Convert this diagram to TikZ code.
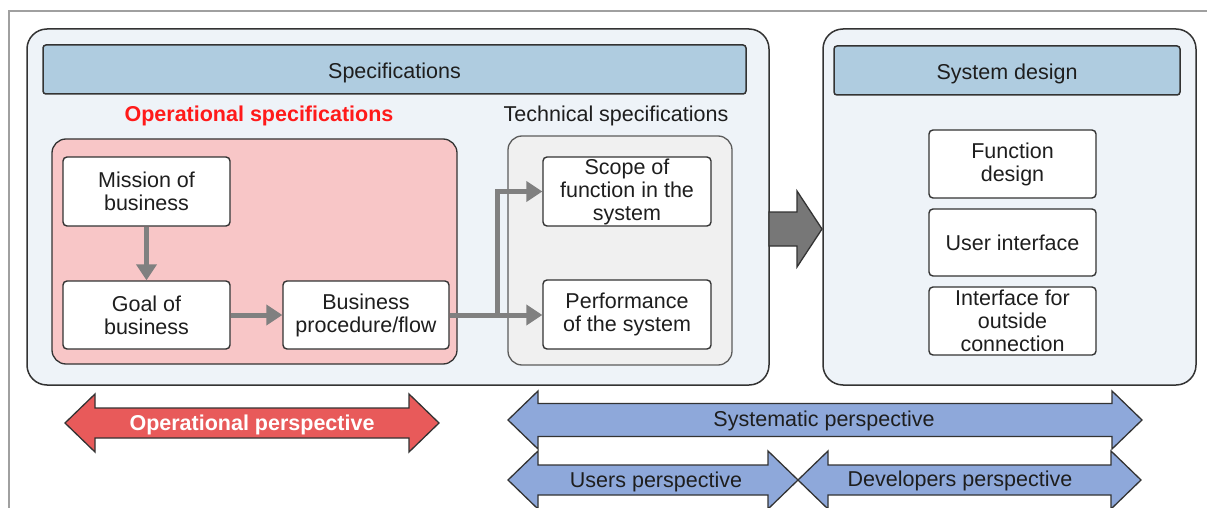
\documentclass[tikz,border=0pt]{standalone}
\usepackage{fontspec}
\setmainfont{Liberation Sans}
\usetikzlibrary{arrows.meta}
\definecolor{txt}{HTML}{1E1E1E}
\definecolor{bord}{HTML}{333333}
\definecolor{specfill}{HTML}{EEF3F8}
\definecolor{headfill}{HTML}{AFCCE0}
\definecolor{pinkfill}{HTML}{F8C6C7}
\definecolor{techfill}{HTML}{F0F0F0}
\definecolor{conncol}{HTML}{808080}
\definecolor{redtxt}{HTML}{FF1A1A}
\definecolor{redarr}{HTML}{E85A5A}
\definecolor{bluearr}{HTML}{8EA8DA}
\definecolor{framecol}{HTML}{A0A0A0}
\definecolor{bigarr}{HTML}{777777}
\newcommand{\dblarr}[6]{(#1,#3) -- (#1+#6,#3-#5) -- (#1+#6,#3-#4) -- (#2-#6,#3-#4) -- (#2-#6,#3-#5) -- (#2,#3) -- (#2-#6,#3+#5) -- (#2-#6,#3+#4) -- (#1+#6,#3+#4) -- (#1+#6,#3+#5) -- cycle}
\tikzset{
  fnt/.style={font=\fontsize{21.5}{23}\selectfont, text=txt},
  bfnt/.style={font=\bfseries\fontsize{21.5}{23}\selectfont},
  bigbox/.style={draw=bord, line width=1.5pt, fill=specfill, rounded corners=20pt, inner sep=0pt},
  headbox/.style={draw=bord, line width=1.5pt, fill=headfill, rounded corners=3pt, inner sep=0pt},
  wbox/.style={draw=bord, line width=1.4pt, fill=white, rounded corners=4pt, inner sep=0pt, fnt, align=center},
  conn/.style={draw=conncol, line width=5pt, -{Triangle[length=16pt,width=20pt]}},
  arrowshape/.style={draw=bord, line width=1.3pt, line join=miter},
}
\begin{document}
\begin{tikzpicture}[x=1pt,y=-1pt]
\useasboundingbox (0,0) rectangle (1207,508);
\clip (0,0) rectangle (1207,508);
\fill[white] (0,0) rectangle (1207,508);
% outer frame
\draw[framecol, line width=1.5pt] (9,508) -- (9,11) -- (1207,11);
% specifications box
\node[bigbox, minimum width=742pt, minimum height=356pt] (specbox) at (398,207) {};
\node[headbox, minimum width=703pt, minimum height=49pt] (spechead) at (394.5,69.5) {};
\node[fnt] (spectitle) at (394.5,73) {Specifications};
\node[bfnt, text=redtxt] (opspec) at (259,116) {Operational specifications};
\node[fnt] (techspec) at (616,116) {Technical specifications};
\node[draw=bord, line width=1.3pt, fill=pinkfill, rounded corners=14pt, minimum width=405pt, minimum height=225pt] (pinkbox) at (254.5,251.5) {};
\node[draw=bord!80, line width=1.3pt, fill=techfill, rounded corners=14pt, minimum width=224pt, minimum height=229pt] (techbox) at (620,250.5) {};
\node[wbox, minimum width=167pt, minimum height=69pt] (mission) at (146.5,191.5) {Mission of\\business};
\node[wbox, minimum width=167pt, minimum height=68pt] (goal) at (146.5,315) {Goal of\\business};
\node[wbox, minimum width=166pt, minimum height=68pt] (bizflow) at (366,315) {Business\\procedure/flow};
\node[wbox, minimum width=168pt, minimum height=69pt] (scope) at (627,191.5) {Scope of\\function in the\\system};
\node[wbox, minimum width=168pt, minimum height=69pt] (perf) at (627,314.5) {Performance\\of the system};
% connectors
\draw[conn] (mission.south) -- (goal.north);
\draw[conn] (goal.east) -- (bizflow.west);
\draw[conn] (bizflow.east) -- (perf.west |- bizflow.east);
\coordinate (split) at (497,317.5);
\draw[conn] (split) |- (scope.west);
% system design box
\node[bigbox, minimum width=373pt, minimum height=356pt] (sysbox) at (1009.5,207) {};
\node[headbox, minimum width=346pt, minimum height=49pt] (syshead) at (1007,70.5) {};
\node[fnt] (systitle) at (1007,74) {System design};
\node[wbox, minimum width=167pt, minimum height=68pt] (funcd) at (1012.5,164) {Function\\design};
\node[wbox, minimum width=167pt, minimum height=67pt] (ui) at (1012.5,242.5) {User interface};
\node[wbox, minimum width=167pt, minimum height=68pt] (iface) at (1012.5,321) {Interface for\\outside\\connection};
% big gray arrow
\draw[arrowshape, fill=bigarr] (769,212) -- (797,212) -- (797,191) -- (822,229) -- (797,267) -- (797,246) -- (769,246) -- cycle;
% perspective arrows
\draw[arrowshape, fill=redarr] \dblarr{65}{439}{423}{15}{29}{30};
\node[bfnt, text=white] (oppersp) at (252,425) {Operational perspective};
\draw[arrowshape, fill=bluearr] \dblarr{508}{1142}{420}{16.5}{29}{30};
\node[fnt] (syspersp) at (824,421) {Systematic perspective};
\draw[arrowshape, fill=bluearr] \dblarr{508}{798}{480}{15}{29}{30};
\node[fnt] (userpersp) at (656,482) {Users perspective};
\draw[arrowshape, fill=bluearr] \dblarr{798}{1141}{480}{15}{29}{30};
\node[fnt] (devpersp) at (960,481) {Developers perspective};
\end{tikzpicture}
\end{document}
